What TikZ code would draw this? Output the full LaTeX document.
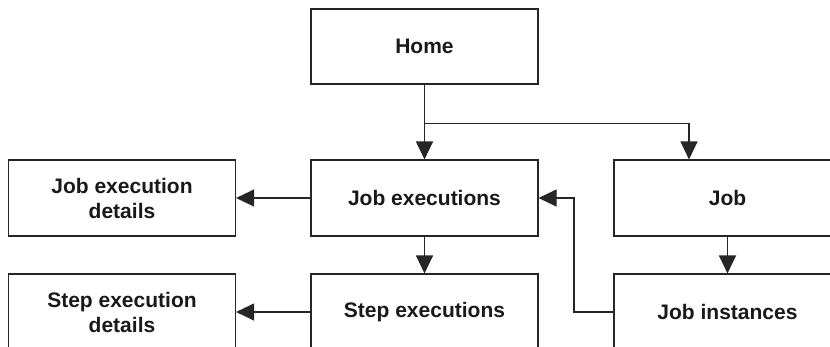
\documentclass[tikz,border=0pt]{standalone}
\usepackage{fontspec}
\setmainfont{Liberation Sans}
\usetikzlibrary{arrows.meta}
\begin{document}
\begin{tikzpicture}[x=1pt,y=-1pt,
  box/.style={draw=black!85,line width=1.1pt,minimum width=227pt,minimum height=76pt,
    inner sep=0pt,align=center,font=\fontsize{21}{25}\selectfont\bfseries,text=black!90},
  conn/.style={draw=black!85,line width=1.1pt,-{Triangle[length=18pt,width=17pt]}}]
\useasboundingbox (0,0) rectangle (830,346);
\begin{scope}
\clip (0,0) rectangle (830,346);
\node[box,minimum height=75pt] (home) at (424.5,46.5) {Home};
\node[box] (jed) at (122,198) {Job execution\\details};
\node[box] (je) at (424.5,198) {Job executions};
\node[box] (job) at (727.5,198) {Job};
\node[box] (sed) at (122,312) {Step execution\\details};
\node[box] (se) at (424.5,312) {Step executions};
\node[box] (ji) at (727.5,312) {Job instances};
\coordinate (jobin) at (689,0);
\draw[conn] (home.south) -- (je.north);
\draw[conn] (home.south) ++(0,39) -| (jobin |- job.north);
\draw[conn] (je.west) -- (jed.east);
\draw[conn] (se.west) -- (sed.east);
\draw[conn] (je.south) -- (se.north);
\draw[conn] (job.south) -- (ji.north);
\coordinate (bend) at (574,0);
\draw[conn] (ji.west) -- (bend |- ji.west) -- (bend |- je.east) -- (je.east);
\end{scope}
\end{tikzpicture}
\end{document}
